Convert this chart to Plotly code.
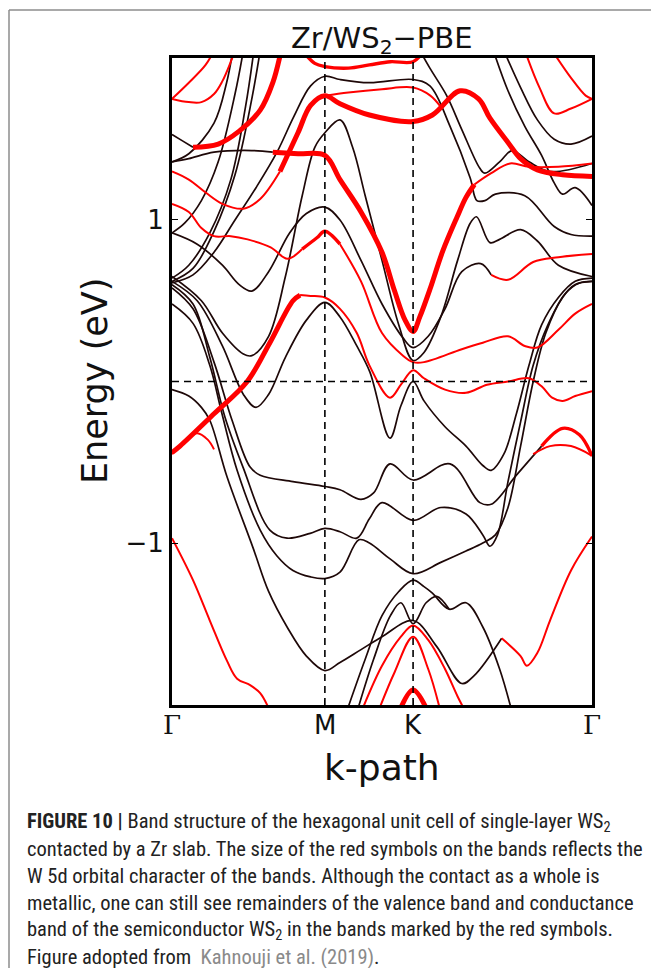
import plotly.graph_objects as go

# page window 659x976; the html body adds an 8px margin, so the figure is inset by 8px
PAGE_W, PAGE_H, OFF = 659, 976, 8
W, H = PAGE_W - 2 * OFF, PAGE_H - 2 * OFF

# ---------------- axis data ----------------
K_TICKS = [0.0, 0.364, 0.574, 1.0]
K_LABELS = ["Γ", "M", "K", "Γ"]
E_TICKS = [-1, 1]
E_LABELS = ["−1", "1"]
E_RANGE = [-2.003, 2.003]
FERMI = 0.0

# ---------------- bands: (k along path, energy eV) ----------------
U1 = [(0, 1.75), (0.04, 1.85), (0.08, 1.96), (0.10, 2.05)]
U2 = [(0, 1.75), (0.04, 1.73), (0.07, 1.73), (0.10, 1.78), (0.12, 1.86), (0.14, 1.98), (0.15, 2.05)]
U3_BLACK = [(0, 1.53), (0.025, 1.49), (0.05, 1.45)]
U3_RED = [(0.05, 1.45), (0.11, 1.47), (0.16, 1.55), (0.21, 1.68), (0.24, 1.85), (0.26, 2.05)]
U4 = [(0, 1.36), (0.04, 1.41), (0.10, 1.60), (0.13, 1.85), (0.145, 2.05)]
U5 = [(0, 0.92), (0.03, 0.98), (0.07, 1.12), (0.11, 1.36), (0.15, 1.78), (0.17, 2.05)]
U6 = [(0, 0.64), (0.04, 0.72), (0.09, 0.92), (0.14, 1.25), (0.175, 1.70), (0.195, 2.05)]
U7 = [(0, 0.62), (0.05, 0.70), (0.10, 0.93), (0.15, 1.28), (0.19, 1.75), (0.21, 2.05)]

V1_BLACK = [(0, 1.36), (0.04, 1.38), (0.10, 1.42), (0.19, 1.43), (0.24, 1.42)]
V1_THICK = [(0.24, 1.42), (0.30, 1.41), (0.364, 1.40), (0.40, 1.25), (0.45, 1.05), (0.50, 0.80),
            (0.53, 0.56), (0.555, 0.38), (0.574, 0.31), (0.59, 0.40), (0.614, 0.57), (0.645, 0.81),
            (0.679, 1.02), (0.70, 1.14), (0.72, 1.22)]
V1_THIN = [(0.72, 1.22), (0.76, 1.29), (0.805, 1.35), (0.85, 1.33), (0.92, 1.33), (1.0, 1.35)]

V2_THIN = [(0, 1.30), (0.04, 1.25), (0.08, 1.17), (0.12, 1.10), (0.17, 1.07), (0.21, 1.13), (0.257, 1.30)]
V2_THICK = [(0.257, 1.30), (0.30, 1.54), (0.33, 1.71), (0.364, 1.77), (0.40, 1.72), (0.47, 1.65),
            (0.574, 1.61), (0.62, 1.65), (0.686, 1.80), (0.73, 1.75), (0.757, 1.63), (0.80, 1.48),
            (0.83, 1.38), (0.87, 1.31), (0.93, 1.28), (1.0, 1.27)]

B13 = [(0, 0.61), (0.05, 0.66), (0.10, 0.80), (0.15, 1.00), (0.20, 1.20), (0.25, 1.42), (0.29, 1.64),
       (0.33, 1.83), (0.364, 1.89), (0.40, 1.87), (0.47, 1.85), (0.574, 1.87), (0.614, 1.83),
       (0.662, 1.58), (0.71, 1.26), (0.726, 1.12), (0.745, 1.12), (0.77, 1.16), (0.84, 1.15),
       (0.91, 0.96), (0.95, 0.91), (1.0, 0.90)]
B14 = [(0.59, 2.05), (0.614, 1.94), (0.654, 1.77), (0.69, 1.56), (0.733, 1.32), (0.745, 1.29),
       (0.78, 1.36), (0.81, 1.43), (0.85, 1.36), (0.90, 1.30), (1.0, 1.35)]
B17 = [(0.765, 2.05), (0.80, 1.80), (0.84, 1.58), (0.88, 1.40), (0.91, 1.23), (0.93, 1.16),
       (0.96, 1.20), (1.0, 1.09)]
B18 = [(0.79, 2.05), (0.83, 1.82), (0.87, 1.62), (0.91, 1.50), (0.95, 1.47), (1.0, 1.52)]
R19 = [(0.84, 2.05), (0.875, 1.82), (0.91, 1.66), (0.95, 1.69), (1.0, 1.75)]
R20 = [(0.905, 2.05), (0.95, 1.88), (0.985, 1.77), (1.0, 1.75)]
R15 = [(0.31, 2.05), (0.34, 1.97), (0.364, 1.95), (0.42, 1.94), (0.47, 1.96), (0.52, 1.98),
       (0.574, 1.98), (0.60, 2.05)]
R16 = [(0.364, 1.77), (0.42, 1.79), (0.50, 1.81), (0.574, 1.82), (0.615, 1.77), (0.64, 1.70)]

VA_BLACK = [(0, 0.92), (0.06, 0.85), (0.12, 0.72), (0.16, 0.60), (0.19, 0.56), (0.23, 0.68),
            (0.28, 0.92), (0.32, 1.04), (0.364, 1.08), (0.40, 1.00), (0.45, 0.75), (0.50, 0.48),
            (0.55, 0.27), (0.574, 0.21), (0.61, 0.28), (0.65, 0.45), (0.69, 0.68), (0.735, 0.73),
            (0.76, 0.66)]
VA_RED = [(0.76, 0.66), (0.80, 0.63), (0.86, 0.74), (0.92, 0.77), (1.0, 0.79)]

VB = [(0, 0.65), (0.07, 0.50), (0.12, 0.30), (0.17, 0.17), (0.19, 0.16), (0.23, 0.28), (0.27, 0.65),
      (0.31, 1.15), (0.34, 1.45), (0.364, 1.54), (0.40, 1.62), (0.43, 1.45), (0.46, 1.15),
      (0.50, 0.75), (0.54, 0.35), (0.574, 0.13), (0.60, 0.18), (0.64, 0.40), (0.68, 0.75),
      (0.71, 0.98), (0.725, 1.02), (0.757, 0.86), (0.78, 0.88), (0.83, 0.94), (0.87, 0.87),
      (0.92, 0.72), (1.0, 0.65)]
VC = [(0, 0.62), (0.06, 0.50), (0.12, 0.22), (0.17, -0.08), (0.20, -0.16), (0.23, -0.08),
      (0.27, 0.15), (0.32, 0.38), (0.364, 0.49), (0.40, 0.40), (0.44, 0.22), (0.471, 0.06),
      (0.519, -0.35), (0.545, -0.15), (0.574, 0.0), (0.60, -0.12), (0.65, -0.28), (0.70, -0.40),
      (0.74, -0.52), (0.76, -0.55), (0.79, -0.45), (0.82, -0.20), (0.85, 0.10), (0.88, 0.35),
      (0.92, 0.52), (0.96, 0.62), (1.0, 0.64)]

W1_A = [(0, 1.10), (0.04, 1.05), (0.07, 0.95), (0.10, 0.90), (0.14, 0.90), (0.18, 0.88),
        (0.235, 0.83), (0.275, 0.76), (0.31, 0.82)]
W1_B = [(0.31, 0.82), (0.345, 0.89), (0.364, 0.93), (0.40, 0.85)]
W1_C = [(0.40, 0.85), (0.45, 0.62), (0.50, 0.30), (0.55, 0.16), (0.574, 0.12), (0.60, 0.12),
        (0.69, 0.20), (0.74, 0.24), (0.80, 0.28), (0.84, 0.22), (0.87, 0.21), (0.92, 0.32),
        (0.96, 0.42), (1.0, 0.48)]

RM_THICK = [(0, -0.44), (0.019, -0.40), (0.10, -0.20), (0.179, 0.0), (0.233, 0.24), (0.288, 0.50),
            (0.305, 0.535)]
RM_THIN = [(0.305, 0.535), (0.33, 0.53), (0.364, 0.52), (0.40, 0.45), (0.44, 0.30), (0.47, 0.10),
           (0.519, -0.10), (0.545, -0.02), (0.574, 0.07), (0.60, 0.02), (0.65, -0.05), (0.70, -0.07),
           (0.75, -0.02), (0.80, 0.0), (0.85, 0.02), (0.88, -0.03), (0.905, -0.10), (0.93, -0.12),
           (0.96, -0.09), (1.0, -0.06)]
LOOP_L = [(0, -0.45), (0.03, -0.37), (0.06, -0.32), (0.085, -0.36), (0.10, -0.42)]
LOOP_R = [(0.86, -0.45), (0.90, -0.40), (0.95, -0.40), (1.0, -0.46)]

L1_BLACK = [(0, -0.05), (0.04, -0.09), (0.07, -0.16), (0.09, -0.24), (0.131, -0.59), (0.193, -1.03),
            (0.23, -1.30), (0.274, -1.52), (0.32, -1.70), (0.364, -1.79), (0.40, -1.74),
            (0.45, -1.66), (0.50, -1.58), (0.574, -1.48), (0.63, -1.64), (0.69, -1.87),
            (0.72, -1.82), (0.785, -1.59)]
L1_RED = [(0.785, -1.59), (0.83, -1.70), (0.845, -1.76), (0.87, -1.68), (0.90, -1.48),
          (0.95, -1.17), (1.0, -0.96)]
L2 = [(0, 0.48), (0.05, 0.36), (0.09, 0.10), (0.119, -0.20), (0.155, -0.55), (0.21, -0.92),
      (0.25, -1.08), (0.288, -1.17), (0.33, -1.21), (0.364, -1.22), (0.40, -1.18), (0.445, -0.98),
      (0.47, -1.00), (0.52, -1.10), (0.574, -1.19), (0.64, -1.12), (0.70, -1.05), (0.74, -1.00),
      (0.77, -0.95), (0.80, -0.78), (0.83, -0.40), (0.86, 0.0), (0.89, 0.30), (0.93, 0.52),
      (0.96, 0.60), (1.0, 0.62)]
L3 = [(0, 0.60), (0.05, 0.48), (0.09, 0.15), (0.126, -0.22), (0.169, -0.53), (0.233, -0.92),
      (0.274, -0.97), (0.329, -0.94), (0.364, -0.91), (0.40, -0.93), (0.44, -0.97), (0.47, -0.85),
      (0.50, -0.75), (0.574, -0.86), (0.64, -0.78), (0.70, -0.82), (0.74, -0.95), (0.757, -1.02),
      (0.775, -0.95), (0.80, -0.62), (0.83, -0.25), (0.86, 0.10), (0.895, 0.35), (0.935, 0.54),
      (0.97, 0.61), (1.0, 0.62)]
L4_BLACK = [(0, 0.58), (0.05, 0.45), (0.10, 0.12), (0.143, -0.24), (0.186, -0.53), (0.21, -0.58),
            (0.288, -0.62), (0.364, -0.65), (0.40, -0.67), (0.45, -0.73), (0.48, -0.69),
            (0.519, -0.51), (0.574, -0.61), (0.662, -0.51), (0.733, -0.75), (0.76, -0.76),
            (0.82, -0.58), (0.88, -0.40)]
L4_RED = [(0.88, -0.40), (0.93, -0.29), (0.97, -0.33), (1.0, -0.46)]
R_LOW = [(0, -0.97), (0.05, -1.23), (0.09, -1.48), (0.131, -1.73), (0.155, -1.84), (0.186, -1.88),
         (0.21, -1.93), (0.235, -2.05)]

K2 = [(0.415, -2.05), (0.46, -1.72), (0.50, -1.45), (0.54, -1.30), (0.574, -1.23), (0.60, -1.27),
      (0.62, -1.31), (0.66, -1.41), (0.70, -1.37), (0.74, -1.52), (0.78, -1.78), (0.81, -2.05)]
K3 = [(0.44, -2.05), (0.48, -1.72), (0.52, -1.45), (0.545, -1.37), (0.574, -1.50), (0.605, -1.37),
      (0.63, -1.33), (0.66, -1.41)]
K4 = [(0.45, -2.05), (0.50, -1.76), (0.545, -1.58), (0.574, -1.51), (0.61, -1.60), (0.65, -1.78),
      (0.68, -1.95), (0.70, -2.05)]
K5 = [(0.49, -2.05), (0.53, -1.80), (0.574, -1.58), (0.61, -1.78), (0.64, -2.05)]
K6 = [(0.54, -2.05), (0.574, -1.91), (0.61, -2.05)]

BLACK_BANDS = [U3_BLACK, U4, U5, U6, U7, V1_BLACK, B13, B14, B17, B18, VA_BLACK, VB, VC,
               L1_BLACK, L2, L3, L4_BLACK, K2, K3]
RED_THIN = [U1, U2, V1_THIN, V2_THIN, R16, VA_RED, W1_A, W1_C, RM_THIN, LOOP_L, LOOP_R,
            L1_RED, R19, R20, K4, K5, R_LOW]
RED_MID = [R15, W1_B, L4_RED]
RED_THICK = [U3_RED, V1_THICK, V2_THICK, RM_THICK, K6]

TITLE = "Zr/WS<sub>2</sub>−PBE"
Y_TITLE = "Energy (eV)"
X_TITLE = "k-path"
CAPTION = [
    "<b>FIGURE 10 |</b> Band structure of the hexagonal unit cell of single-layer WS<sub>2</sub>",
    "contacted by a Zr slab. The size of the red symbols on the bands reflects the",
    "W 5d orbital character of the bands. Although the contact as a whole is",
    "metallic, one can still see remainders of the valence band and conductance",
    "band of the semiconductor WS<sub>2</sub> in the bands marked by the red symbols.",
    "Figure adopted from  <span style='color:#8a8a8a'>Kahnouji et al. (2019)</span>.",
]

# ---------------- figure ----------------
BLACK = "#1e0808"
RED = "#ff0000"
fig = go.Figure()


def add_band(pts, color, width):
    fig.add_trace(go.Scatter(
        x=[p[0] for p in pts], y=[p[1] for p in pts], mode="lines",
        line=dict(color=color, width=width, shape="spline", smoothing=1.0),
        hoverinfo="skip", showlegend=False, cliponaxis=True))


for b in BLACK_BANDS:
    add_band(b, BLACK, 1.7)
for b in RED_THIN:
    add_band(b, RED, 2.0)
for b in RED_MID:
    add_band(b, RED, 3.4)
for b in RED_THICK:
    add_band(b, RED, 5.0)


def px(x):  # page pixel -> paper x
    return (x - OFF) / W


def py(y):  # page pixel -> paper y
    return 1 - (y - OFF) / H


dash = dict(color="black", width=1.6, dash="7px,5px")
frame = dict(color="#8c8c8c", width=1.5)
shapes = [
    dict(type="line", xref="x", yref="y", x0=K_TICKS[0], x1=K_TICKS[-1], y0=FERMI, y1=FERMI, line=dash),
    dict(type="line", xref="x", yref="y", x0=K_TICKS[1], x1=K_TICKS[1], y0=E_RANGE[0], y1=E_RANGE[1], line=dash),
    dict(type="line", xref="x", yref="y", x0=K_TICKS[2], x1=K_TICKS[2], y0=E_RANGE[0], y1=E_RANGE[1], line=dash),
    dict(type="line", xref="paper", yref="paper", x0=px(9), x1=1.05, y0=py(10), y1=py(10), line=frame),
    dict(type="line", xref="paper", yref="paper", x0=px(9), x1=px(9), y0=-0.05, y1=py(10), line=frame),
]

PL, PR, PT, PB = 172, 592, 58, 705
fig.update_layout(
    width=W, height=H, margin=dict(l=0, r=0, t=0, b=0, autoexpand=False),
    paper_bgcolor="white", plot_bgcolor="white",
    shapes=shapes,
    xaxis=dict(domain=[px(PL), px(PR)], range=[K_TICKS[0], K_TICKS[-1]], showgrid=False, zeroline=False,
               showline=True, mirror=True, linecolor="black", linewidth=3,
               tickmode="array", tickvals=K_TICKS, ticks="inside", ticklen=5, tickwidth=1,
               tickcolor="black", showticklabels=False),
    yaxis=dict(domain=[py(PB), py(PT)], range=E_RANGE, showgrid=False, zeroline=False,
               showline=True, mirror="ticks", linecolor="black", linewidth=3,
               tickmode="array", tickvals=E_TICKS, ticktext=E_LABELS,
               ticks="inside", ticklen=6, tickwidth=1, tickcolor="black",
               tickfont=dict(family="DejaVu Sans", size=26, color="#111")),
)

ann = [
    dict(text=TITLE, x=px((PL + PR) / 2), y=py(40), font=dict(family="DejaVu Sans", size=29, color="#111")),
    dict(text=X_TITLE, x=px((PL + PR) / 2), y=py(767), font=dict(family="DejaVu Sans", size=36, color="#111")),
    dict(text=Y_TITLE, x=px(95), y=py(381), textangle=-90,
         font=dict(family="DejaVu Sans", size=35, color="#111")),
]
for kv, lab in zip(K_TICKS, K_LABELS):
    fam = "DejaVu Serif" if lab == "Γ" else "DejaVu Sans"
    ann.append(dict(text=lab, x=kv, xref="x", y=py(725), font=dict(family=fam, size=26, color="#111")))
for i, line in enumerate(CAPTION):
    ann.append(dict(text=line, x=px(25), y=py(822 + 27 * i), xanchor="left",
                    font=dict(family="Roboto Condensed, Liberation Sans Narrow, Roboto, sans-serif",
                              size=20.5, color="#222")))
for a in ann:
    a.setdefault("xanchor", "center")
    a.setdefault("xref", "paper")
    fig.add_annotation(yref="paper", showarrow=False, yanchor="middle", **a)

fig.write_html("out.html")
